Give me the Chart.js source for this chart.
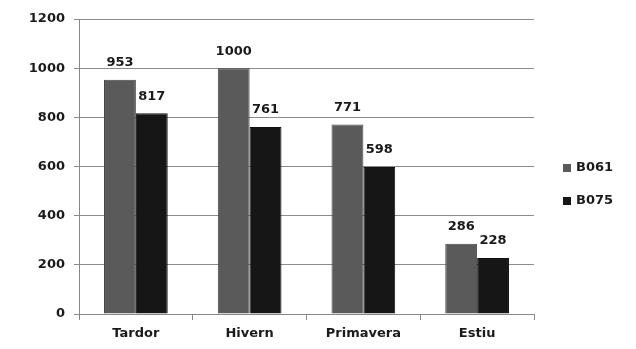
<!DOCTYPE html>
<html>
<head>
<meta charset="utf-8">
<script src="https://cdn.jsdelivr.net/npm/chart.js@4"></script>
<style>
  html, body { margin: 0; padding: 0; background: #fff; }
  #wrap { width: 636px; height: 349px; }
</style>
</head>
<body>
<div id="wrap"><canvas id="grafic" width="636" height="349"></canvas></div>
<script>
const estacions = ['Tardor', 'Hivern', 'Primavera', 'Estiu'];
const b061 = [953, 1000, 771, 286];
const b075 = [817, 761, 598, 228];
const yTicks = [0, 200, 400, 600, 800, 1000, 1200];

const font = { family: 'DejaVu Sans', size: 13, weight: 'bold' };

// numbers above each bar
const etiquetes = {
  id: 'etiquetes',
  afterDatasetsDraw(chart) {
    const ctx = chart.ctx;
    ctx.save();
    ctx.font = 'bold 13px "DejaVu Sans"';
    ctx.fillStyle = '#1a1a1a';
    ctx.textAlign = 'center';
    ctx.textBaseline = 'middle';
    chart.data.datasets.forEach((ds, i) => {
      chart.getDatasetMeta(i).data.forEach((bar, j) => {
        ctx.fillText(ds.data[j], bar.x, bar.y - 17);
      });
    });
    ctx.restore();
  }
};

// legend on the right
const llegenda = {
  id: 'llegenda',
  afterDraw(chart) {
    const ctx = chart.ctx;
    const x = chart.chartArea.right + 29;
    ctx.save();
    ctx.font = 'bold 13px "DejaVu Sans"';
    ctx.textBaseline = 'middle';
    chart.data.datasets.forEach((ds, i) => {
      const y = 168 + i * 33;
      ctx.fillStyle = ds.backgroundColor;
      ctx.fillRect(x, y - 4, 8, 8);
      ctx.fillStyle = '#1a1a1a';
      ctx.fillText(ds.label, x + 13, y);
    });
    ctx.restore();
  }
};

new Chart(document.getElementById('grafic'), {
  type: 'bar',
  data: {
    labels: estacions,
    datasets: [
      { label: 'B061', data: b061, backgroundColor: '#5a5a5a', borderColor: '#444', borderWidth: 1 },
      { label: 'B075', data: b075, backgroundColor: '#161616', borderColor: '#111', borderWidth: 1 }
    ]
  },
  options: {
    responsive: false,
    animation: false,
    layout: { padding: { top: 19, right: 102, left: 0, bottom: 0 } },
    datasets: { bar: { categoryPercentage: 0.56, barPercentage: 1 } },
    plugins: { legend: { display: false }, tooltip: { enabled: false } },
    scales: {
      x: {
        grid: { drawOnChartArea: false, color: '#888', tickLength: 6 },
        border: { color: '#888' },
        ticks: { color: '#1a1a1a', font: font, padding: 6 },
        afterFit(s) { s.height = 35; }
      },
      y: {
        min: 0, max: 1200,
        afterBuildTicks(s) { s.ticks = yTicks.map(v => ({ value: v })); },
        grid: { color: '#8c8c8c', tickLength: 5 },
        border: { color: '#888' },
        ticks: { color: '#1a1a1a', font: font, padding: 9, callback: v => String(v) },
        afterFit(s) { s.width = 79; }
      }
    }
  },
  plugins: [etiquetes, llegenda]
});
</script>
</body>
</html>
